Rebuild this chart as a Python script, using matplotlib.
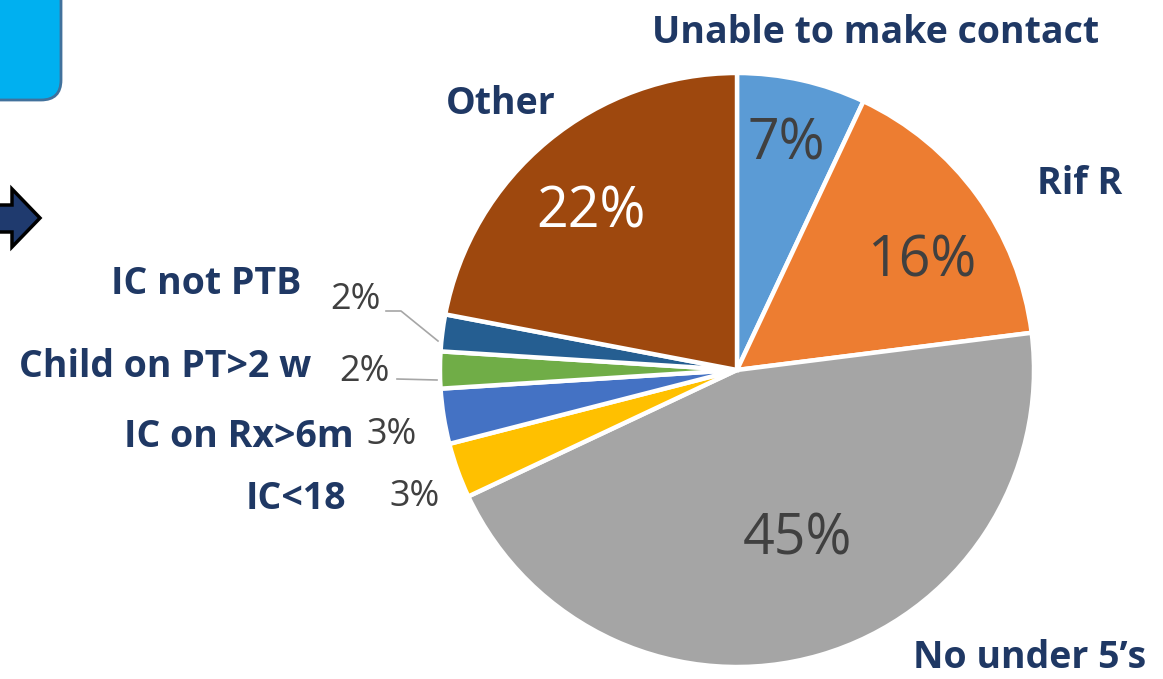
import matplotlib.pyplot as plt
from matplotlib.patches import FancyBboxPatch, Polygon

# slice data, clockwise from 12 o'clock
categories = ["Unable to make contact", "Rif R", "No under 5\u2019s", "IC<18",
              "IC on Rx>6m", "Child on PT>2 w", "IC not PTB", "Other"]
shares = [7, 16, 45, 3, 3, 2, 2, 22]
colors = ["#5B9BD5", "#ED7D31", "#A5A5A5", "#FFC000",
          "#4472C4", "#70AD47", "#255E91", "#9E480E"]

W, H = 1163, 679
fig = plt.figure(figsize=(W / 100, H / 100), dpi=100)
ax = fig.add_axes([0, 0, 1, 1])

def Y(y):
    # image-style y (top down) to axes y
    return H - y

cx, cy, r = 737, 370, 297
ax.pie(shares, colors=colors, startangle=90, counterclock=False,
       center=(cx, Y(cy)), radius=r, frame=True,
       wedgeprops=dict(edgecolor="white", linewidth=3.2))
ax.set_xlim(0, W)
ax.set_ylim(0, H)
ax.set_aspect("equal")
ax.axis("off")

navy = "#1F3864"
pct_grey = "#404040"
lab_font = dict(family="Open Sans", weight="bold", color=navy, fontsize=27)

# percentage labels
pct_pos = [(786, 145), (922, 262), (797, 540), (415, 497),
           (392, 435), (364, 372), (355, 300), (591, 213)]
pct_size = [40, 40, 40, 26, 26, 26, 26, 40]
for val, (x, y), fs, cat in zip(shares, pct_pos, pct_size, categories):
    col = "white" if cat == "Other" else pct_grey
    ax.text(x, Y(y), f"{val}%", ha="center", va="center", fontsize=fs,
            color=col, family="Open Sans")

# leader lines for the two thinnest slices
ax.plot([386, 401, 438], [Y(311), Y(311), Y(341)], color="#A6A6A6", lw=1.2)
ax.plot([397, 437], [Y(379), Y(380)], color="#A6A6A6", lw=1.2)

# category labels
cat_pos = [(876, 33), (1080, 184), (1030, 658), (296, 499),
           (239, 437), (165, 367), (206, 284), (501, 104)]
for cat, (x, y) in zip(categories, cat_pos):
    ax.text(x, Y(y), cat, ha="center", va="center", **lab_font)

# rounded box in the top-left corner
box = FancyBboxPatch((-60, Y(100)), 121, 140,
                     boxstyle="round,pad=0,rounding_size=20",
                     facecolor="#00B0F0", edgecolor="#41719C", lw=2)
ax.add_patch(box)

# block arrow pointing right
arrow = Polygon([(-5, Y(205)), (12, Y(205)), (12, Y(189)), (40, Y(218)),
                 (12, Y(247)), (12, Y(232)), (-5, Y(232))],
                closed=True, facecolor="#1F3A6E", edgecolor="black", lw=2.5)
ax.add_patch(arrow)

fig.savefig("out.png", dpi=100)
